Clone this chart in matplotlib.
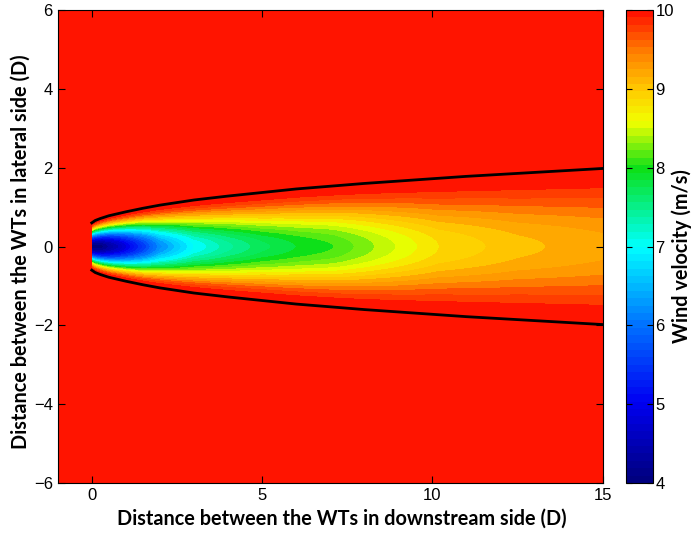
import numpy as np
import matplotlib
matplotlib.use("Agg")
from matplotlib import pyplot as plt
from matplotlib.colors import LinearSegmentedColormap, Normalize
from matplotlib.cm import ScalarMappable

# Wake boundary half-width [D]
line_x = [0.0, 0.1, 0.25, 0.5, 1.0, 1.5, 2.0, 3.0, 4.0, 5.0, 6.0, 7.0, 8.0, 9.0, 10.0, 11.0, 12.0, 13.0, 14.0, 15.0]
line_r = [0.60, 0.66, 0.71, 0.78, 0.88, 0.97, 1.05, 1.18, 1.28, 1.37, 1.46, 1.53, 1.60, 1.66, 1.72, 1.78, 1.83, 1.88, 1.93, 1.98]

# Centre-line wind velocity [m/s]
centre_x = [0.0, 0.3, 0.8, 1.5, 2.0, 3.0, 4.0, 5.0, 6.0, 7.1, 8.5, 10.2, 12.5, 15.0]
centre_u = [4.05, 4.1, 4.6, 5.5, 6.2, 7.0, 7.4, 7.7, 7.9, 8.05, 8.4, 8.8, 9.05, 9.2]

u_free = 10.0
x_lim = (-1, 15)
y_lim = (-6, 6)

# colour map (red-topped jet as in the reference)
cmap_vals = [4.0, 5.0, 6.0, 7.0, 8.0, 8.6, 9.0, 9.5, 10.0]
cmap_cols = [(0, 0, 0.5), (0, 0, 0.95), (0, 0.45, 1), (0, 1, 1), (0.05, 0.88, 0.1),
             (0.95, 1, 0), (1, 0.8, 0), (1, 0.5, 0), (1, 0.08, 0)]

cmap = LinearSegmentedColormap.from_list(
    "wake", [((v - 4) / 6, c) for v, c in zip(cmap_vals, cmap_cols)], N=64)
norm = Normalize(4, 10)

# velocity field: deficit profile between the boundary lines
xs = np.linspace(x_lim[0], x_lim[1], 801)
ys = np.linspace(y_lim[0], y_lim[1], 1201)
X, Y = np.meshgrid(xs, ys)
R = np.interp(X, line_x, line_r)
UC = np.interp(X, centre_x, centre_u)
eta = np.clip(np.abs(Y) / R, 0, 1)
U = u_free - (u_free - UC) * (1 - eta ** 2) ** 2
U[X < 0] = u_free

fig = plt.figure(figsize=(6.92, 5.33), dpi=100)
ax = fig.add_axes([0.0834, 0.0938, 0.7876, 0.8874])
cax = fig.add_axes([0.905, 0.0938, 0.039, 0.8874])

levels = np.linspace(4, 10, 41)
ax.contourf(X, Y, U, levels=levels, cmap=cmap, norm=norm)

ax.plot(line_x, line_r, color="k", lw=2)
ax.plot(line_x, [-r for r in line_r], color="k", lw=2)

ax.set_xlim(x_lim)
ax.set_ylim(y_lim)
ax.set_xticks([0, 5, 10, 15])
ax.set_yticks([-6, -4, -2, 0, 2, 4, 6])
ax.tick_params(direction="in", top=True, right=True, length=5, labelsize=12)
for t in ax.get_xticklabels() + ax.get_yticklabels():
    t.set_fontfamily("Liberation Sans")

lab_font = dict(family="Lato", weight="bold", size=14.3)
ax.set_xlabel("Distance between the WTs in downstream side (D)", **lab_font)
ax.xaxis.set_label_coords(0.521, -0.054)
ax.set_ylabel("Distance between the WTs in lateral side (D)", **lab_font)
ax.yaxis.set_label_coords(-0.05, 0.49)

cb = fig.colorbar(ScalarMappable(norm=norm, cmap=cmap), cax=cax)
cb.set_ticks([4, 5, 6, 7, 8, 9, 10])
cax.tick_params(direction="in", left=True, right=True, length=4, labelsize=12, pad=1.5)
for t in cax.get_yticklabels():
    t.set_fontfamily("Liberation Sans")
cb.set_label("Wind velocity (m/s)", family="Lato", weight="bold", size=14.3)
cax.yaxis.set_label_coords(1.66, 0.48)

fig.savefig("out.png", dpi=100)
